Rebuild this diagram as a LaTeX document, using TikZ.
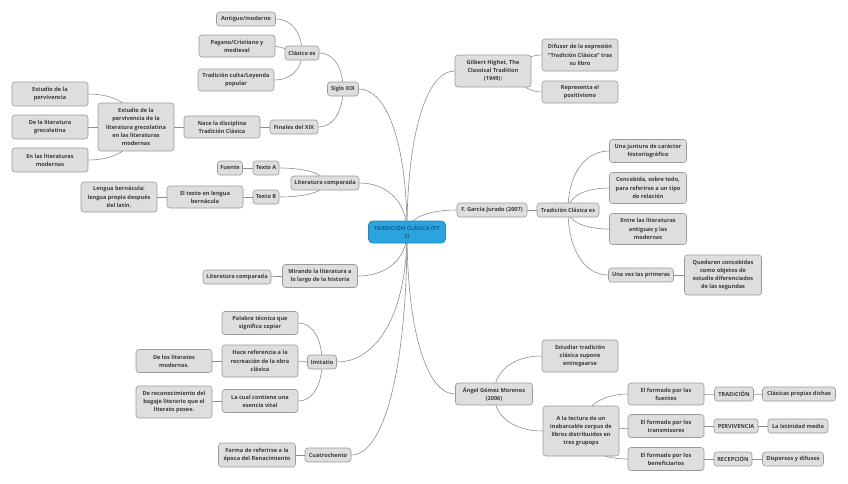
\documentclass[tikz,border=0pt]{standalone}
\usepackage{fontspec}
\setmainfont{Open Sans}
\usetikzlibrary{backgrounds,calc}
\definecolor{boxfill}{HTML}{DEDEDE}
\definecolor{boxline}{HTML}{9A9A9A}
\definecolor{txt}{HTML}{3C3C3C}
\definecolor{edgec}{HTML}{8E8E8E}
\definecolor{cfill}{HTML}{2AA3DE}
\definecolor{cline}{HTML}{1E86BE}
\definecolor{ctxt}{HTML}{1D5C8E}
\begin{document}
\begin{tikzpicture}[x=1pt,y=-1pt,
  box/.style={draw=boxline, fill=boxfill, rounded corners=3pt, line width=0.6pt, align=center,
    font=\fontsize{5.6}{8.2}\selectfont\bfseries, text=txt, inner xsep=2pt, inner ysep=1pt, minimum height=14pt},
  mw/.style={minimum width=#1pt},
  mh/.style={minimum height=#1pt},
  central/.style={draw=cline, fill=cfill, rounded corners=4pt, line width=0.6pt, align=center,
    font=\fontsize{5.6}{8.2}\selectfont\bfseries, text=ctxt, minimum width=77pt, minimum height=22pt, inner sep=1pt},
  link/.style={draw=edgec, line width=0.6pt},
  conn/.style={to path={.. controls ($(\tikztostart)!0.6!(\tikztostart |- \tikztotarget)$) and ($(\tikztostart |- \tikztotarget)!0.4!(\tikztotarget)$) .. (\tikztotarget)}}]
\useasboundingbox (0,0) rectangle (848,483);

% central
\node[central] (c) at (407,232) {TRADICIÓN CLÁSICA (PT\\2)};

% left upper
\node[box,mw=31] (s19) at (343,89) {Siglo XIX};
\node[box,mw=34] (ces) at (302,53) {Clásico es};
\node[box,mw=59] (am) at (246,19) {Antiguo/moderno};
\node[box,mw=76,mh=22] (pc) at (237,46) {Pagano/Cristiano y\\medieval};
\node[box,mw=76,mh=22] (tc) at (236,80) {Tradición culta/Leyenda\\popular};
\node[box,mw=48] (fin) at (294,127) {Finales del XIX};
\node[box,mw=76,mh=22] (nace) at (222,127) {Nace la disciplina\\Tradición Clásica};
\node[box,mw=76,mh=48] (est) at (136,127) {Estudio de la\\pervivencia de la\\literatura grecolatina\\en las literaturas\\modernas};
\node[box,mw=76,mh=24] (e1) at (50,94) {Estudio de la\\pervivencia};
\node[box,mw=76,mh=24] (e2) at (50,127) {De la literatura\\grecolatina};
\node[box,mw=76,mh=24] (e3) at (50,160) {En las literaturas\\modernas};

% literatura comparada
\node[box,mw=68] (lc) at (325,183) {Literatura comparada};
\node[box,mw=26] (ta) at (266,168) {Texto A};
\node[box,mw=25] (fu) at (230,168) {Fuente};
\node[box,mw=26] (tb) at (266,197) {Texto B};
\node[box,mw=76,mh=22] (etl) at (205,197) {El texto en lengua\\bernácula};
\node[box,mw=76,mh=30] (lb) at (119,197) {Lengua bernácula:\\lengua propia después\\del latín.};

% mirando
\node[box,mw=75,mh=23] (mir) at (320,276) {Mirando la literatura a\\lo largo de la historia};
\node[box,mw=68] (lc2) at (237,277) {Literatura comparada};

% imitatio
\node[box,mw=29] (imi) at (322,362) {Imitatio};
\node[box,mw=76,mh=23] (pal) at (260,323) {Palabra técnica que\\significa copiar};
\node[box,mw=76,mh=32] (hac) at (260,361) {Hace referencia a la\\recreación de la obra\\clásica};
\node[box,mw=76,mh=23] (dlm) at (174,361) {De los literatos\\modernos.};
\node[box,mw=76,mh=23] (lcc) at (260,401) {La cual contiene una\\esencia vital};
\node[box,mw=76,mh=32] (drb) at (174,402) {De reconocimiento del\\bagaje literario que el\\literato posee.};

% cuatrochento
\node[box,mw=46] (cua) at (328,455) {Cuatrochento};
\node[box,mw=77,mh=24] (forr) at (257,455) {Forma de referirse a la\\época del Renacimiento};

% right: Gilbert
\node[box,mw=76,mh=32] (gil) at (493,71) {Gilbert Highet, The\\Classical Tradition\\(1949):};
\node[box,mw=76,mh=32] (dif) at (580,55) {Difusor de la expresión\\“Tradición Clásica” tras\\su libro};
\node[box,mw=76,mh=22] (rep) at (580,92) {Representa el\\positivismo};

% right: García Jurado
\node[box,mw=70] (fgj) at (492,210) {F. García Jurado (2007)};
\node[box,mw=62] (tce) at (568,210) {Tradición Clásica es};
\node[box,mw=77,mh=23] (jun) at (648,151) {Una juntura de carácter\\historiográfico};
\node[box,mw=77,mh=31] (con) at (648,188) {Concebida, sobre todo,\\para referirse a un tipo\\de relación};
\node[box,mw=77,mh=31] (ent) at (648,229) {Entre las literaturas\\antiguas y las\\modernas};
\node[box,mw=65] (uvp) at (641,275) {Una vez las primeras};
\node[box,mw=77,mh=40] (que) at (723,275) {Quedaron concebidas\\como objetos de\\estudio diferenciados\\de las segundas};

% right: Gómez Moreno
\node[box,mw=77,mh=22] (ang) at (494,394) {Ángel Gómez Morenos\\(2006)};
\node[box,mw=76,mh=32] (esd) at (580,356) {Estudiar tradición\\clásica supone\\entregaarse};
\node[box,mw=76,mh=50] (lec) at (581,431) {A la lectura de un\\inabarcable corpus de\\libros distribuidos en\\tres grupops};
\node[box,mw=76,mh=22] (f1) at (666,394) {El formado por las\\fuentes};
\node[box,mw=76,mh=23] (f2) at (666,426) {El formado por los\\transmisores};
\node[box,mw=76,mh=23] (f3) at (666,459) {El formado por los\\beneficiarios};
\node[box,mw=39] (t1) at (734,394) {TRADICIÓN};
\node[box,mw=44] (t2) at (736,426) {PERVIVENCIA};
\node[box,mw=38] (t3) at (733,459) {RECEPCIÓN};
\node[box,mw=73] (k1) at (799,394) {Clásicas propias dichas};
\node[box,mw=60] (k2) at (798,426) {La latinidad media};
\node[box,mw=61] (k3) at (793,459) {Dispersos y difusos};

\begin{scope}[on background layer]
  \fill[white] (0,0) rectangle (848,483);
  % from central
  \foreach \t/\a in {s19/east, lc/east, mir/east, imi/east, cua/east, gil/west, fgj/west, ang/west}
    \draw[link] (c.center) to[conn] (\t.\a);
  % left
  \draw[link] (s19.center) to[conn] (ces.east);
  \draw[link] (s19.center) to[conn] (fin.east);
  \draw[link] (ces.center) to[conn] (am.east);
  \draw[link] (ces.center) -- (pc.east);
  \draw[link] (ces.center) to[conn] (tc.east);
  \draw[link] (fin.center) -- (nace.center);
  \draw[link] (nace.center) -- (est.center);
  \draw[link] (est.center) to[conn] (e1.east);
  \draw[link] (est.center) -- (e2.center);
  \draw[link] (est.center) to[conn] (e3.east);
  \draw[link] (lc.center) to[conn] (ta.east);
  \draw[link] (lc.center) to[conn] (tb.east);
  \draw[link] (ta.center) -- (fu.center);
  \draw[link] (tb.center) -- (etl.center);
  \draw[link] (etl.center) -- (lb.center);
  \draw[link] (mir.center) -- (lc2.center);
  \draw[link] (imi.center) to[conn] (pal.east);
  \draw[link] (imi.center) -- (hac.center);
  \draw[link] (imi.center) to[conn] (lcc.east);
  \draw[link] (hac.center) -- (dlm.center);
  \draw[link] (lcc.center) -- (drb.center);
  \draw[link] (cua.center) -- (forr.center);
  % right
  \draw[link] (gil.center) to[out=0,in=180] (dif.west);
  \draw[link] (gil.center) to[out=0,in=180] (rep.west);
  \draw[link] (fgj.center) -- (tce.center);
  \foreach \t in {jun, con, ent, uvp}
    \draw[link] (tce.center) to[conn] (\t.west);
  \draw[link] (uvp.center) -- (que.center);
  \draw[link] (ang.center) to[conn] (esd.west);
  \draw[link] (ang.center) to[conn] (lec.west);
  \draw[link] (lec.center) to[conn] (f1.west);
  \draw[link] (lec.center) -- (f2.center);
  \draw[link] (lec.center) to[conn] (f3.west);
  \draw[link] (f1.center) -- (t1.center) -- (k1.center);
  \draw[link] (f2.center) -- (t2.center) -- (k2.center);
  \draw[link] (f3.center) -- (t3.center) -- (k3.center);
\end{scope}
\end{tikzpicture}
\end{document}
